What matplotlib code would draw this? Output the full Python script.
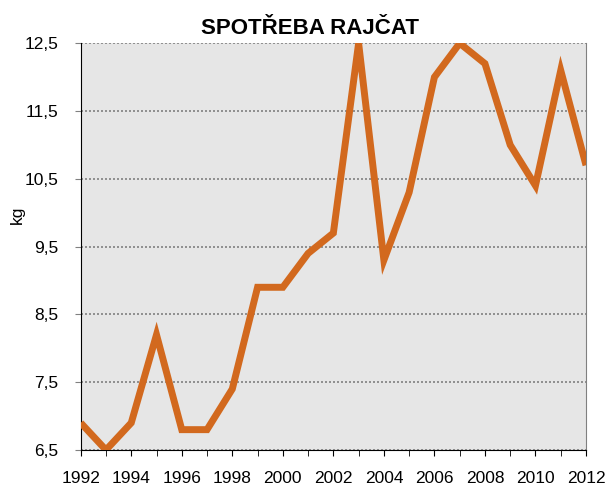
import matplotlib
matplotlib.use("Agg")
import matplotlib.pyplot as plt
import numpy as np

plt.rcParams['font.family'] = ['Liberation Sans', 'DejaVu Sans']

years = list(range(1992, 2013))
values = [6.9, 6.5, 6.9, 8.2, 6.8, 6.8, 7.4, 8.9, 8.9, 9.4, 9.7,
          12.5, 9.3, 10.3, 12.0, 12.5, 12.2, 11.0, 10.4, 12.1, 10.7]
yticks = [6.5, 7.5, 8.5, 9.5, 10.5, 11.5, 12.5]
ytick_labels = ['6,5', '7,5', '8,5', '9,5', '10,5', '11,5', '12,5']
xticks = list(range(1992, 2013, 2))

fig = plt.figure(figsize=(6.05, 4.86), dpi=100)
ax = fig.add_axes([0.1334, 0.0741, 0.8352, 0.8369])
ax.set_facecolor('#e6e6e6')

ax.plot(years, values, color='#d2691e', lw=5, solid_joinstyle='miter',
        solid_capstyle='butt', zorder=3)

ax.set_xlim(1992, 2012)
ax.set_ylim(6.5, 12.5)
ax.set_yticks(yticks)
ax.set_yticklabels(ytick_labels)
ax.set_xticks(xticks)
ax.set_xticks(years, minor=True)
ax.tick_params(axis='x', which='both', direction='out', length=4, color='black',
               labelsize=12.5, pad=11)
ax.tick_params(axis='y', direction='out', length=4, color='#808080',
               labelsize=12.5, pad=12)

ax.yaxis.grid(True, linestyle=(0, (1.2, 1.2)), color='#808080', lw=1.2)
ax.set_axisbelow(True)

ax.spines['top'].set_visible(False)
ax.spines['right'].set_color('#808080')
ax.spines['left'].set_color('black')
ax.spines['bottom'].set_color('black')

ax.set_ylabel('kg', fontsize=12.5)
ax.yaxis.set_label_coords(-0.110, 0.578)
fig.text(310 / 605, 1 - 28 / 486, 'SPOTŘEBA RAJČAT', fontsize=16,
         fontweight='bold', ha='center', va='center')

fig.savefig('out.png', dpi=100)
